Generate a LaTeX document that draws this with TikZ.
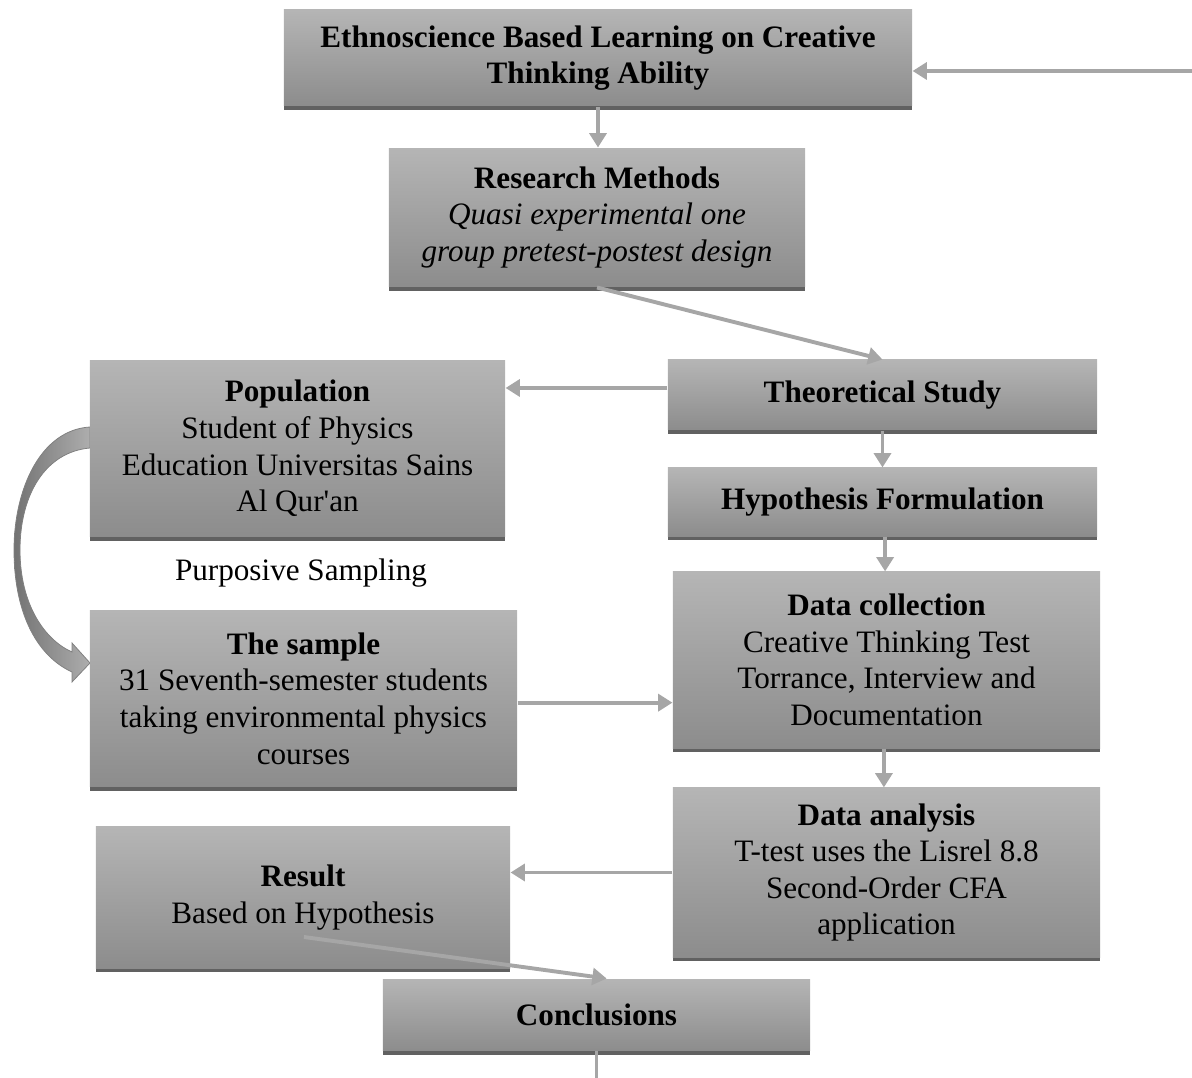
\documentclass[tikz,border=0pt]{standalone}
\usepackage{fontspec}
\setmainfont{Liberation Serif}
\usetikzlibrary{arrows.meta,shadows}
\begin{document}
\begin{tikzpicture}[x=0.385pt,y=-0.385pt,
  box/.style={rectangle, inner sep=0pt, top color=black!29, bottom color=black!45, draw=none,
    drop shadow={shadow xshift=0pt,shadow yshift=-1.4pt,fill=black!62,opacity=1},
    align=center, font=\fontsize{12}{14.1}\selectfont},
  conn/.style={draw=black!35, line width=1.5pt, -{Triangle[length=5.5pt,width=6.5pt]}},
  plain/.style={draw=black!35, line width=1.5pt},
  lbl/.style={font=\fontsize{12}{14.1}\selectfont, inner sep=0pt}
]
\useasboundingbox (0,0) rectangle (1192,1078);

% curved arrow (population -> sample)
\path[left color=black!55, right color=black!32, draw=black!50, line width=0.3pt]
  (90,427) .. controls (40,430) and (14,490) .. (14,550)
  .. controls (14,610) and (35,655) .. (72,672)
  -- (72,682) -- (90,663) -- (72,643) -- (72,652)
  .. controls (45,640) and (20,605) .. (20,550)
  .. controls (20,495) and (45,452) .. (90,448) -- cycle;

\node[box, minimum width=241.8pt, minimum height=36.96pt] (top) at (598,58) {\textbf{Ethnoscience Based Learning on Creative}\\\textbf{Thinking Ability}};
\node[box, minimum width=160.2pt, minimum height=53.5pt] (rm) at (597,217.5) {\textbf{Research Methods}\\\textit{Quasi experimental one}\\\textit{group pretest-postest design}};
\node[box, minimum width=165.2pt, minimum height=26.95pt] (ts) at (882.5,395) {\textbf{Theoretical Study}};
\node[box, minimum width=165.2pt, minimum height=26.2pt] (hf) at (882.5,502) {\textbf{Hypothesis Formulation}};
\node[box, minimum width=159.8pt, minimum height=68.1pt] (pop) at (297.5,448.5) {\textbf{Population}\\Student of Physics\\Education Universitas Sains\\Al Qur\textquotesingle an};
\node[box, minimum width=164.4pt, minimum height=67.8pt] (dc) at (886.5,660) {\textbf{Data collection}\\Creative Thinking Test\\Torrance, Interview and\\Documentation};
\node[box, minimum width=164.4pt, minimum height=68.1pt] (smp) at (303.5,698.5) {\textbf{The sample}\\31 Seventh-semester students\\taking environmental physics\\courses};
\node[box, minimum width=164.4pt, minimum height=65.1pt] (da) at (886.5,872.5) {\textbf{Data analysis}\\T-test uses the Lisrel 8.8\\Second-Order CFA\\application};
\node[box, minimum width=159.4pt, minimum height=54.3pt] (res) at (303,897.5) {\textbf{Result}\\Based on Hypothesis};
\node[box, minimum width=164.4pt, minimum height=27.7pt] (con) at (596.5,1015) {\textbf{Conclusions}};

\node[lbl] (ps) at (301,573) {Purposive Sampling};

\coordinate (rin) at (1192,71);
\coordinate (rs) at (304,937);
\coordinate (cend) at (596.5,1078);

\draw[conn] (rin) -- (rin -| top.east);
\draw[conn] (top.south) -- (top.south |- rm.north);
\draw[conn] (rm.south) -- (ts.north);
\draw[conn] ([yshift=2.7pt]ts.west) -- ([yshift=2.7pt]ts.west -| pop.east);
\draw[conn] (ts.south) -- (hf.north);
\draw[conn] ([xshift=1pt]hf.south) -- ([xshift=1pt]hf.south |- dc.north);
\draw[conn] ([xshift=-1pt]dc.south) -- ([xshift=-1pt]dc.south |- da.north);
\draw[conn] ([yshift=-1.6pt]smp.east) -- ([yshift=-1.6pt]smp.east -| dc.west);
\draw[conn] (da.west) -- (da.west -| res.east);
\draw[conn] (rs) -- ([xshift=3.9pt]con.north);
\draw[plain] (con.south) -- (cend);
\end{tikzpicture}
\end{document}
